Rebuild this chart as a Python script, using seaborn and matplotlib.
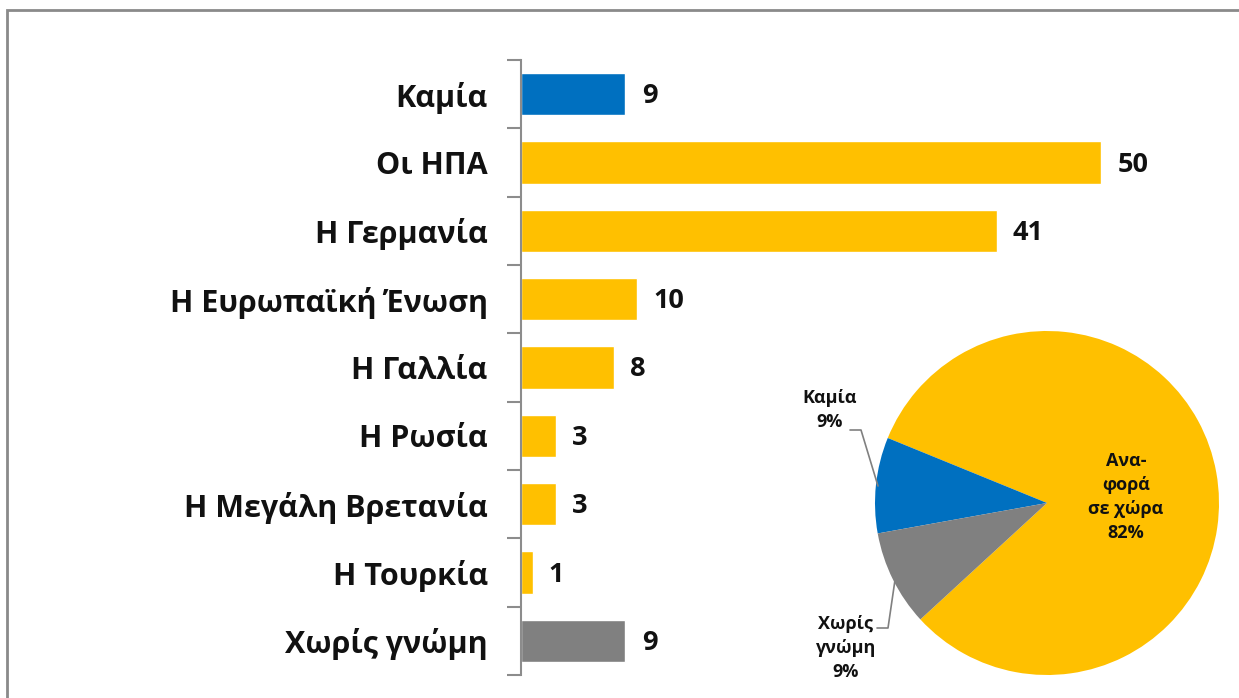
import matplotlib
matplotlib.use("Agg")
import matplotlib.pyplot as plt
import seaborn as sns
import pandas as pd
import numpy as np
from matplotlib.patches import Rectangle
from matplotlib.transforms import offset_copy

sns.set_style("white")
plt.rcParams['font.family'] = ['Open Sans', 'DejaVu Sans']

categories = ["Καμία", "Οι ΗΠΑ", "Η Γερμανία", "Η Ευρωπαϊκή Ένωση", "Η Γαλλία",
              "Η Ρωσία", "Η Μεγάλη Βρετανία", "Η Τουρκία", "Χωρίς γνώμη"]
values = [9, 50, 41, 10, 8, 3, 3, 1, 9]
bar_colors = ["#0070C0"] + ["#FFC000"] * 7 + ["#808080"]

pie_labels = ["Ανα-\nφορά\nσε χώρα\n82%", "Καμία\n9%", "Χωρίς\nγνώμη\n9%"]
pie_values = [82, 9, 9]
pie_colors = ["#FFC000", "#0070C0", "#808080"]

W, H = 1239, 698
fig = plt.figure(figsize=(W / 100, H / 100), dpi=100)

# frame border
fig.patches.append(Rectangle((7 / W, -0.1), 1.2, (698 - 10) / H + 0.1, transform=fig.transFigure,
                             fill=False, edgecolor="#8A8A8A", linewidth=2))

ax = fig.add_axes([521 / W, 1 - 675 / H, 696 / W, 615 / H])
df = pd.DataFrame({"cat": categories, "val": values})
sns.barplot(data=df, x="val", y="cat", hue="cat", palette=bar_colors, legend=False,
            width=0.62, ax=ax, saturation=1)
ax.set_xlim(0, 60)
ax.set_ylim(len(categories) - 0.5, -0.5)
ax.set_xlabel("")
ax.set_ylabel("")
ax.set_xticks([])
for s in ["top", "right", "bottom"]:
    ax.spines[s].set_visible(False)
ax.spines["left"].set_color("#8C8C8C")
ax.spines["left"].set_linewidth(1.5)
ax.tick_params(axis="y", which="major", length=0, pad=24)
ax.set_yticks(np.arange(-0.5, len(categories), 1.0), minor=True)
ax.tick_params(axis="y", which="minor", length=10, width=1.5, color="#8C8C8C", left=True)
for lab in ax.get_yticklabels():
    lab.set_fontsize(22)
    lab.set_fontweight("bold")
    lab.set_color("#111111")
lab_tr = offset_copy(ax.transData, fig=fig, x=0, y=-2, units="dots")
for i, v in enumerate(values):
    ax.text(v + 1.4, i, str(v), va="center", ha="left", fontsize=19.5, fontweight="bold",
            color="#111111", transform=lab_tr)

# pie
cx, cy, r = 1047, 503, 172
pax = fig.add_axes([(cx - r) / W, 1 - (cy + r) / H, 2 * r / W, 2 * r / H])
wedges, _ = pax.pie(pie_values, colors=pie_colors, startangle=-137.4, counterclock=True,
                    wedgeprops=dict(linewidth=0))
pax.set_xlim(-1, 1)
pax.set_ylim(-1, 1)
pax.set_aspect("equal")
pax.axis("off")

def px(x, y):
    return ((x - cx) / r, (cy - y) / r)

pax.text(*px(1126, 497), pie_labels[0], ha="center", va="center", fontsize=13,
         fontweight="bold", linespacing=1.45, color="#111111")
pax.text(*px(830, 410), pie_labels[1], ha="center", va="center", fontsize=13,
         fontweight="bold", linespacing=1.4, color="#111111")
pax.text(*px(846, 648), pie_labels[2], ha="center", va="center", fontsize=13,
         fontweight="bold", linespacing=1.4, color="#111111")
for pts in ([(850, 430), (861, 430), (878, 486)], [(877, 628), (888, 628), (895, 580)]):
    xs, ys = zip(*[px(a, b) for a, b in pts])
    pax.plot(xs, ys, color="#808080", lw=1.2, clip_on=False)

fig.savefig("out.png", dpi=100)
